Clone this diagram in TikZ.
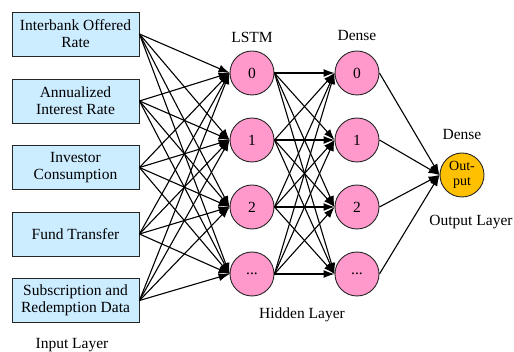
\documentclass[tikz,border=0pt]{standalone}
\usepackage{fontspec}
\setmainfont{Liberation Serif}
\usetikzlibrary{arrows.meta}
\definecolor{boxblue}{RGB}{204,236,255}
\definecolor{nodepink}{RGB}{255,153,204}
\definecolor{outorange}{RGB}{255,192,0}
\tikzset{
  inbox/.style={draw=black!85, line width=0.9pt, fill=boxblue, minimum width=127pt, minimum height=44pt, inner sep=1pt, align=center, font=\rmfamily\fontsize{15.5}{17}\selectfont},
  neuron/.style={circle, draw=black!85, line width=0.9pt, fill=nodepink, minimum size=44pt, inner sep=0pt, font=\rmfamily\fontsize{15.5}{17}\selectfont},
  outneuron/.style={circle, draw=black!85, line width=0.9pt, fill=outorange, minimum size=44pt, inner sep=0pt, align=center, font=\rmfamily\fontsize{14}{15}\selectfont},
  lbl/.style={font=\rmfamily\fontsize{15.5}{17}\selectfont, inner sep=0pt},
  conn/.style={line width=1.1pt, -{Latex[length=11pt,width=8pt]}}
}
\begin{document}
\begin{tikzpicture}[x=1pt,y=-1pt]
\useasboundingbox (0,0) rectangle (514,352);
\node[inbox] (i0) at (75.5,34) {Interbank Offered\\Rate};
\node[inbox] (i1) at (75.5,101) {Annualized\\Interest Rate};
\node[inbox] (i2) at (75.5,167.5) {Investor\\Consumption};
\node[inbox] (i3) at (75.5,234) {Fund Transfer};
\node[inbox] (i4) at (75.5,300.5) {Subscription and\\Redemption Data};
\node[neuron] (l0) at (252,73) {0};
\node[neuron] (l1) at (252,140) {1};
\node[neuron] (l2) at (252,207) {2};
\node[neuron] (l3) at (252,274) {...};
\node[neuron] (d0) at (357,73) {0};
\node[neuron] (d1) at (357,140) {1};
\node[neuron] (d2) at (357,207) {2};
\node[neuron] (d3) at (357,274) {...};
\node[outneuron] (o) at (462,175) {Out-\\put};
\node[lbl] (tl) at (252,37) {LSTM};
\node[lbl] (td) at (357,36) {Dense};
\node[lbl] (to) at (462,135) {Dense};
\node[lbl] (tol) at (471,222) {Output Layer};
\node[lbl] (thl) at (302,315) {Hidden Layer};
\node[lbl] (til) at (72,345) {Input Layer};
\foreach \i in {0,...,4}{
  \foreach \j in {0,...,3}{
    \draw[conn] (i\i.east) -- (l\j.west);
  }
}
\foreach \i in {0,...,3}{
  \foreach \j in {0,...,3}{
    \draw[conn] (l\i.east) -- (d\j.west);
  }
  \draw[conn] (d\i.east) -- (o.west);
}
\end{tikzpicture}
\end{document}
